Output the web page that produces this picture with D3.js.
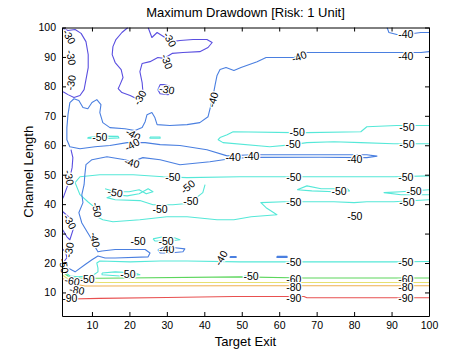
<!DOCTYPE html>
<html><head><meta charset="utf-8">
<script src="https://cdn.jsdelivr.net/npm/d3@7"></script>
<style>body{margin:0;background:#fff}</style>
</head><body>
<svg id="c" width="474" height="355"></svg>
<script>
const xTicks=[10,20,30,40,50,60,70,80,90,100];
const yTicks=[10,20,30,40,50,60,70,80,90,100];
const levels=[-90,-80,-70,-60,-50,-40,-30];

const lines90=[[[2,7.4],[4.1,7.8],[12.1,8.0],[30,8.3],[47.9,8.6],[66.6,8.6],[67.4,8.2],[100,8.2]]];
const lines80=[[[2,14.9],[4.1,13.2],[8.1,12.2],[12.1,12.2],[50,12.3],[100,12.3]]];
const lines70=[[[2,16.0],[3.6,14.6],[6.8,13.7],[12.1,13.4],[100,13.4]]];
const lines60=[[[2,17.0],[3.6,15.6],[6.8,14.9],[12.1,14.8],[49.5,15.3],[66.6,14.9],[100,14.9]]];
const lines50=[
 [[100,66.7],[96.8,66.7],[91.4,66.7],[83.4,66.3],[81.8,64.6],[67.4,64.3],[63.7,64.3],[47.7,64.6],[46.1,63.6],[44.2,62.6],[43.7,61.9],[45.0,60.9],[57.5,59.5],[63.7,60.2],[67.4,60.9],[74.6,61.2],[81.8,60.9],[90.6,60.5],[96.8,60.5],[100,60.5]],
 [[8.9,62.6],[12.1,63.1],[17.0,63.0],[17.2,62.5],[12.1,62.2],[8.9,62.4],[8.9,62.6]],
 [[25.5,62.8],[28.2,62.8],[28.2,62.4],[25.5,62.4],[25.5,62.8]],
 [[100,49.6],[90.7,49.3],[74.6,49.3],[61.3,49.3],[49.5,49.3],[35.4,49.0],[29.0,49.3],[21.0,50.0],[12.1,50.0],[6.8,49.3],[5.5,47.3],[6.8,43.2],[8.9,40.8],[10.8,38.8],[11.3,35.7],[12.9,34.7],[15.6,34.0],[22.8,34.7],[30.0,35.7],[35.4,35.7],[38.8,35.3],[43.4,34.7],[47.9,34.7],[52.5,35.7],[59.4,36.4],[56.5,38.8],[55.1,40.5],[61.3,40.8],[74.6,40.8],[80.0,40.5],[83.4,40.8],[90.6,40.8],[100,41.5]],
 [[13.5,45.2],[16.2,44.2],[19.9,44.2],[22.6,44.9],[24.5,43.5],[26.3,44.2],[25.0,45.2],[22.6,43.5],[19.4,42.8],[16.2,43.2],[14.0,42.2],[16.2,41.5],[22.8,41.2],[26.3,39.8],[31.6,39.8],[35.4,40.2],[37.5,41.8],[39.6,43.9],[40.2,46.6]],
 [[64.8,44.9],[67.4,46.2],[71.2,45.2],[78.2,45.2],[78.8,44.5],[74.8,44.2],[68.7,44.5],[64.8,44.9]],
 [[100,44.9],[92.5,44.2],[88.0,43.9],[92.5,43.2],[100,43.2]],
 [[26.3,28.2],[29.0,28.9],[32.2,28.5],[33.5,27.9],[30.8,27.5],[26.8,27.5],[26.3,28.2]],
 [[100,20.5],[90.6,20.4],[74.6,20.4],[61.3,20.4],[49.5,20.4],[35.4,20.7],[28.2,20.7],[20.2,20.4],[12.1,20.7],[11.3,20.0],[11.6,18.3],[11.6,17.0],[10.5,16.0],[8.7,15.6],[6.3,15.3],[4.1,15.6],[2.5,17.3],[2.0,18.3]],
 [[12.7,16.6],[16.2,17.0],[21.5,16.6],[22.8,16.0],[17.5,15.6],[12.7,16.0],[12.7,16.6]],
 [[50.6,15.6],[54.1,15.9],[54.1,15.3],[50.6,15.3],[50.6,15.6]]
];
const lines40=[
 [[88.8,100],[89.3,98.3],[91.4,97.6],[93.8,97.6],[97.8,98.3],[100,98.3]],
 [[100,91.8],[97.9,91.5],[92.5,91.5],[67.4,91.5],[65.5,90.5],[63.9,89.8],[56.5,89.8],[54.1,88.4],[49.8,86.4],[47.9,85.4],[45.8,86.4],[44.2,85.7],[43.4,83.7],[42.9,80.6],[42.3,76.5],[41.8,73.8],[41.0,69.7],[38.8,67.7],[35.4,67.0],[30.8,66.7],[27.4,67.0],[26.8,69.4],[26.0,71.1],[24.7,70.4],[24.2,68.0],[23.4,66.0],[21.5,65.0],[18.8,65.6],[14.8,66.0],[12.9,67.7],[12.1,71.1],[12.4,73.8],[11.3,75.5],[10.0,74.5],[8.9,72.4],[7.6,72.8],[6.5,75.2],[5.2,75.8],[4.1,74.5],[3.6,70.4],[3.3,66.0],[3.3,61.9],[4.1,59.5],[6.8,58.8],[10.8,59.5],[14.8,59.9],[19.4,60.9],[24.2,60.9],[28.2,60.2],[33.5,59.9],[40.7,58.5],[46.1,56.4],[53.0,56.8],[70.9,56.8],[83.4,56.8],[86.1,56.3],[83.4,55.8],[70.9,55.9],[53.0,55.9],[46.9,55.4],[41.5,54.4],[33.5,53.4],[28.2,55.1],[23.6,55.8],[20.7,54.4],[18.8,55.1],[14.0,56.1],[10.0,55.1],[8.4,53.4],[8.1,50.0],[7.9,46.6],[7.3,43.2],[7.6,40.5],[6.5,37.1],[7.3,33.6],[8.7,30.6],[10.0,27.9],[10.8,25.5],[11.6,23.8],[12.7,24.1],[16.2,24.6],[24.2,24.6],[25.5,23.4],[25.0,22.1],[16.2,21.7],[13.5,21.7],[11.6,22.4],[10.0,21.1],[8.1,19.4],[5.5,17.0],[3.6,18.3],[2.0,20.0]],
 [[27.6,24.5],[29.5,25.5],[32.2,25.2],[34.8,24.8],[34.3,23.8],[30.8,23.4],[28.2,23.4],[27.6,24.5]],
 [[46.9,22.2],[48.5,22.2],[48.5,21.9],[46.9,21.9],[46.9,22.2]],
 [[59.4,22.3],[62.1,22.3],[62.1,21.9],[59.4,21.9],[59.4,22.3]]
];
const lines30=[
 [[2.3,99.7],[3.6,99.0],[5.5,99.3],[7.1,98.0],[8.4,95.2],[9.0,90.8],[9.0,86.4],[8.4,82.3],[7.9,78.9],[6.8,76.9],[5.2,76.2],[3.6,77.2],[2.3,78.2]],
 [[19.6,100],[18.0,98.3],[16.4,95.9],[15.6,93.5],[15.4,90.8],[16.2,88.1],[17.8,85.7],[18.3,83.0],[17.5,80.6],[17.0,79.2],[18.0,77.9],[20.2,76.9],[21.8,75.9]],
 [[22.8,75.2],[23.6,78.2],[23.4,81.3],[22.8,85.0],[23.4,87.8],[25.5,88.4],[27.6,89.8],[29.2,89.5],[31.4,91.2],[34.3,91.5],[38.8,91.8],[41.0,93.2],[42.1,94.9],[40.7,95.9],[37.0,95.9],[33.5,95.6],[31.4,95.2],[29.5,96.6],[27.4,98.3],[26.0,96.6],[25.0,100]],
 [[27.6,78.9],[28.2,80.6],[29.8,80.6],[31.4,79.5],[31.6,77.9],[30.3,77.2],[28.2,77.5],[27.6,78.9]],
 [[4.4,58.5],[4.9,55.8],[4.7,52.4],[4.1,49.0],[3.3,45.6],[2.5,42.8],[2.0,41.5]],
 [[2,37.7],[4.1,35.3],[5.2,32.3],[4.1,27.9],[3.3,28.9],[2.5,30.6],[2,31.6]],
 [[2,25.0],[3.0,23.6],[3.3,21.8],[2.6,20.6]]
];

// label positions [x, y, text, angle]
const labels=[
 [3.9,96.9,"-30",60],[4.4,89.8,"-30",80],[4.4,81.3,"-30",-80],[22.8,76.2,"-30",-60],[30.0,78.9,"-30",10],[30.0,88.4,"-30",70],[30.8,95.9,"-30",60],[3.9,49.0,"-30",80],[4.1,34.0,"-30",60],[3.9,24.5,"-30",-80],
 [93.8,97.6,"-40",0],[65.3,90.1,"-40",-20],[93.8,90.1,"-40",0],[42.3,75.5,"-40",-75],[21.0,63.6,"-40",30],[20.7,60.2,"-40",-30],[20.7,54.1,"-40",15],[47.7,55.8,"-40",0],[52.7,56.4,"-40",0],[80.2,55.1,"-40",0],[10.8,27.9,"-40",80],[30.0,24.5,"-40",0],[44.5,21.7,"-40",-60],
 [12.1,62.6,"-50",0],[64.8,64.3,"-50",0],[94.1,66.0,"-50",0],[63.7,60.2,"-50",0],[94.1,60.2,"-50",0],[31.6,49.0,"-50",0],[63.9,49.0,"-50",0],[93.8,49.0,"-50",0],[11.3,38.1,"-50",80],[16.2,43.9,"-50",10],[28.2,38.1,"-50",0],[35.6,45.9,"-50",-40],[36.4,40.8,"-50",0],[63.9,40.5,"-50",0],[94.1,40.5,"-50",0],[76.0,44.2,"-50",0],[96.0,44.5,"-50",0],[80.2,36.0,"-50",0],[22.3,27.5,"-50",0],[29.8,27.5,"-50",0],[63.9,20.4,"-50",0],[93.8,20.4,"-50",0],[19.6,16.0,"-50",0],[52.5,15.6,"-50",0],[8.7,14.6,"-50",0],[2.5,19.0,"-50",80],
 [63.9,14.3,"-60",0],[93.8,14.3,"-60",0],[4.7,13.9,"-60",10],
 [63.9,11.9,"-80",0],[93.8,11.9,"-80",0],[6.0,10.8,"-80",10],
 [63.9,8.1,"-90",0],[93.8,8.1,"-90",0],[4.1,8.1,"-90",0]
];

const levelColor={"-90":"#e85050","-80":"#f0b050","-70":"#e6e070","-60":"#5cd65c","-50":"#55e8d8","-40":"#4a7fe0","-30":"#5a4fe0"};
const contourSets=[
 {level:-90,lines:lines90},{level:-80,lines:lines80},{level:-70,lines:lines70},
 {level:-60,lines:lines60},{level:-50,lines:lines50},{level:-40,lines:lines40},{level:-30,lines:lines30}
];

const svg=d3.select("#c");
const L=62,R=429,T=27.5,B=316;
const x=d3.scaleLinear().domain([2,100]).range([L,R]);
const y=d3.scaleLinear().domain([2,100]).range([B,T]);
const font="'Liberation Sans', Arial, Helvetica, sans-serif";

svg.append("defs").append("clipPath").attr("id","clip").append("rect")
 .attr("x",L).attr("y",T).attr("width",R-L).attr("height",B-T);

const line=d3.line().x(d=>x(d[0])).y(d=>y(d[1]));
const g=svg.append("g").attr("clip-path","url(#clip)");
contourSets.forEach(s=>{
 g.selectAll(null).data(s.lines).enter().append("path")
  .attr("d",line).attr("fill","none").attr("stroke",levelColor[String(s.level)])
  .attr("stroke-width",1.1).attr("stroke-linejoin","round");
});

svg.append("g").selectAll("text").data(labels).enter().append("text")
 .attr("transform",d=>`translate(${x(d[0])},${y(d[1])}) rotate(${d[3]})`)
 .attr("text-anchor","middle").attr("dy","0.35em")
 .attr("font-family",font).attr("font-size",10.5).attr("fill","#000")
 .attr("stroke","#fff").attr("stroke-width",2.5).attr("paint-order","stroke")
 .text(d=>d[2]);

function styleAxis(sel,showText){
 sel.select(".domain").attr("stroke","#000");
 sel.selectAll(".tick line").attr("stroke","#000");
 sel.selectAll(".tick text").attr("font-family",font).attr("font-size",10.5).attr("fill","#000");
 if(!showText) sel.selectAll(".tick text").remove();
}
const ax=svg.append("g").attr("transform",`translate(0,${B})`)
 .call(d3.axisBottom(x).tickValues(xTicks).tickSizeInner(-4).tickSizeOuter(0).tickPadding(6));
styleAxis(ax,true);
const axT=svg.append("g").attr("transform",`translate(0,${T})`)
 .call(d3.axisTop(x).tickValues(xTicks).tickSizeInner(-4).tickSizeOuter(0));
styleAxis(axT,false);
const ay=svg.append("g").attr("transform",`translate(${L},0)`)
 .call(d3.axisLeft(y).tickValues(yTicks).tickSizeInner(-4).tickSizeOuter(0).tickPadding(6));
styleAxis(ay,true);
const ayR=svg.append("g").attr("transform",`translate(${R},0)`)
 .call(d3.axisRight(y).tickValues(yTicks).tickSizeInner(-4).tickSizeOuter(0));
styleAxis(ayR,false);

svg.append("text").attr("x",(L+R)/2).attr("y",17).attr("text-anchor","middle")
 .attr("font-family",font).attr("font-size",13).text("Maximum Drawdown [Risk: 1 Unit]");
svg.append("text").attr("x",(L+R)/2).attr("y",346).attr("text-anchor","middle")
 .attr("font-family",font).attr("font-size",13).text("Target Exit");
svg.append("text").attr("transform",`translate(33,${(T+B)/2}) rotate(-90)`).attr("text-anchor","middle")
 .attr("font-family",font).attr("font-size",13).text("Channel Length");
</script>
</body></html>
